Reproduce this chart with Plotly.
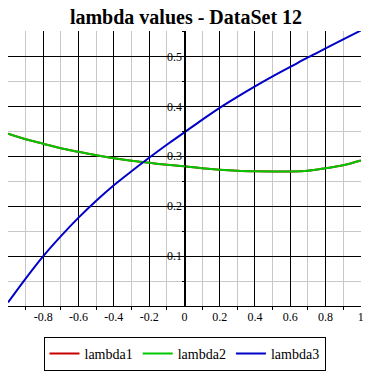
import plotly.graph_objects as go

x_vals = [-1.0, -0.9, -0.8, -0.7, -0.6, -0.5, -0.4, -0.3, -0.2, -0.1, 0.0,
          0.1, 0.2, 0.3, 0.4, 0.5, 0.6, 0.7, 0.8, 0.9, 1.0]
lambda2 = [0.345, 0.334, 0.325, 0.316, 0.309, 0.302, 0.296, 0.291, 0.287, 0.283, 0.280,
           0.276, 0.273, 0.271, 0.270, 0.2695, 0.2695, 0.271, 0.276, 0.282, 0.2915]
lambda3 = [0.007, 0.055, 0.100, 0.140, 0.177, 0.211, 0.242, 0.270, 0.297, 0.323, 0.348,
           0.373, 0.397, 0.419, 0.440, 0.460, 0.479, 0.498, 0.516, 0.534, 0.552]
lambda1 = list(lambda2)  # hidden beneath the other curves in the reference

x_ticks = [-0.8, -0.6, -0.4, -0.2, 0, 0.2, 0.4, 0.6, 0.8, 1]
x_ticktext = ["-0.8", "-0.6", "-0.4", "-0.2", "0", "0.2", "0.4", "0.6", "0.8", "1"]
x_minor = [-0.9, -0.7, -0.5, -0.3, -0.1, 0.1, 0.3, 0.5, 0.7, 0.9]
y_ticks = [0.1, 0.2, 0.3, 0.4, 0.5]
y_ticktext = ["0.1", "0.2", "0.3", "0.4", "0.5"]
y_minor = [0.05, 0.15, 0.25, 0.35, 0.45, 0.55]

SERIF = "Liberation Serif"

fig = go.Figure()
fig.add_trace(go.Scatter(x=x_vals, y=lambda1, mode="lines", name="lambda1",
                         line=dict(color="#c80000", width=2), line_shape="spline"))
fig.add_trace(go.Scatter(x=x_vals, y=lambda2, mode="lines", name="lambda2",
                         line=dict(color="#00c800", width=2), line_shape="spline"))
fig.add_trace(go.Scatter(x=x_vals, y=lambda3, mode="lines", name="lambda3",
                         line=dict(color="#0000c8", width=2), line_shape="spline"))

fig.update_layout(
    width=372, height=372,
    margin=dict(l=8, r=8, t=31, b=66),
    paper_bgcolor="white", plot_bgcolor="white",
    font=dict(family=SERIF, size=12, color="black"),
    title=dict(text="<b>lambda values - DataSet 12</b>", x=0.5, xanchor="center",
               y=1 - 17 / 372, yanchor="middle",
               font=dict(family=SERIF, size=20, color="black")),
    showlegend=True,
    legend=dict(orientation="h", x=0.5, xanchor="center",
                yref="container", y=1 / 372, yanchor="bottom",
                bordercolor="black", borderwidth=1, bgcolor="white",
                font=dict(family=SERIF, size=14, color="black"),
                itemwidth=30, tracegroupgap=0),
    xaxis=dict(range=[-1, 1.001], tickmode="array", tickvals=x_ticks, ticktext=x_ticktext,
               showgrid=True, gridcolor="black", gridwidth=1,
               zeroline=False, showline=True, linecolor="black", linewidth=1,
               ticks="",
               minor=dict(tickmode="array", tickvals=x_minor, showgrid=True,
                          gridcolor="#c8c8c8", gridwidth=1,
                          ticks="outside", ticklen=3, tickcolor="black"),
               tickfont=dict(family=SERIF, size=12, color="black")),
    yaxis=dict(range=[0, 0.551], tickmode="array", tickvals=y_ticks, ticktext=y_ticktext,
               anchor="free", position=0.5, side="left",
               showgrid=True, gridcolor="black", gridwidth=1,
               zeroline=False, showline=True, linecolor="black", linewidth=1,
               ticks="", ticklabelstandoff=0,
               minor=dict(tickmode="array", tickvals=y_minor, showgrid=True,
                          gridcolor="#c8c8c8", gridwidth=1,
                          ticks="outside", ticklen=3, tickcolor="black"),
               tickfont=dict(family=SERIF, size=12, color="black")),
)

fig.write_html("out.html", config={"displayModeBar": False},
               post_script="document.body.style.margin='0';")
